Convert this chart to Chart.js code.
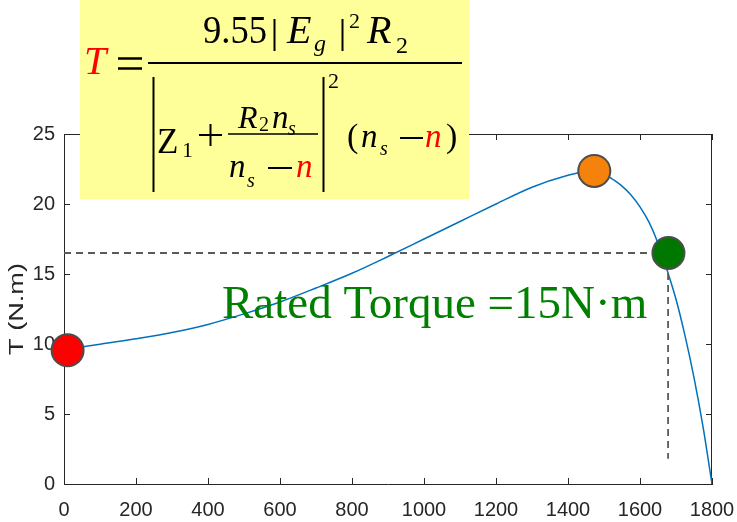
<!DOCTYPE html>
<html>
<head>
<meta charset="utf-8">
<title>Torque - speed</title>
<script src="https://cdn.jsdelivr.net/npm/chart.js@4.4.1/dist/chart.umd.min.js"></script>
<style>
  html, body { margin: 0; padding: 0; background: #fff; }
  #wrap { width: 737px; height: 522px; }
</style>
</head>
<body>
<div id="wrap"><canvas id="chartTorque" width="737" height="522"></canvas></div>
<script>
// curva par - velocidad del motor
var speed  = [0, 100, 200, 300, 400, 500, 600, 700, 800, 900, 1000, 1100, 1200, 1300, 1400, 1450, 1475, 1500, 1525, 1550, 1575, 1600, 1625, 1650, 1675, 1700, 1725, 1750, 1775, 1800];
var torque = [9.6, 9.98, 10.37, 10.82, 11.4, 12.15, 13.0, 14.0, 15.05, 16.25, 17.5, 18.75, 20.0, 21.2, 22.05, 22.32, 22.36, 22.15, 21.75, 21.28, 20.65, 19.8, 18.7, 17.2, 15.3, 13.2, 10.6, 7.6, 4.1, 0];

// puntos: arranque, par maximo, nominal
var markerSpeed  = [10, 1473, 1679];
var markerTorque = [9.55, 22.36, 16.5];
var markerColors = ['#ff0000', '#f5820a', '#007800'];

// lineas punteadas del par nominal
var ratedSpeed  = [0, 1678, 1678];
var ratedTorque = [16.5, 16.5, 1.8];

var xTicks = [0, 200, 400, 600, 800, 1000, 1200, 1400, 1600, 1800];
var yTicks = [0, 5, 10, 15, 20, 25];
var yTitle = 'T (N.m)';

var axisColor = '#262626';

function toPoints(xs, ys) {
    var pts = [];
    for (var i = 0; i < xs.length; i++) {
        pts.push({ x: xs[i], y: ys[i] });
    }
    return pts;
}

// caja completa con ticks hacia adentro (estilo matlab)
var boxTicks = {
    id: 'boxTicks',
    beforeDatasetsDraw: function (chart) {
        var ctx = chart.ctx;
        var a = chart.chartArea;
        var len = 6;
        ctx.save();
        ctx.strokeStyle = axisColor;
        ctx.lineWidth = 1;
        ctx.beginPath();
        ctx.moveTo(a.left, a.top + 0.5);
        ctx.lineTo(a.right, a.top + 0.5);
        ctx.moveTo(a.right - 0.5, a.top);
        ctx.lineTo(a.right - 0.5, a.bottom);
        chart.scales.x.ticks.forEach(function (t) {
            var px = Math.round(chart.scales.x.getPixelForValue(t.value)) + 0.5;
            ctx.moveTo(px, a.bottom);
            ctx.lineTo(px, a.bottom - len);
            ctx.moveTo(px, a.top);
            ctx.lineTo(px, a.top + len);
        });
        chart.scales.y.ticks.forEach(function (t) {
            var py = Math.round(chart.scales.y.getPixelForValue(t.value)) + 0.5;
            ctx.moveTo(a.left, py);
            ctx.lineTo(a.left + len, py);
            ctx.moveTo(a.right, py);
            ctx.lineTo(a.right - len, py);
        });
        ctx.stroke();

        // titulo del eje y, algo estirado a lo largo
        var mid = (a.top + a.bottom) / 2;
        ctx.font = '21px "Liberation Sans", Arial, sans-serif';
        ctx.fillStyle = axisColor;
        ctx.textAlign = 'center';
        ctx.textBaseline = 'alphabetic';
        var w = ctx.measureText(yTitle).width;
        ctx.translate(22.5, mid);
        ctx.rotate(-Math.PI / 2);
        ctx.scale(92 / w, 1);
        ctx.fillText(yTitle, 0, 0);
        ctx.restore();
    }
};

// texto "Rated Torque" y la formula del par sobre fondo amarillo
var overlay = {
    id: 'overlay',
    afterDraw: function (chart) {
        var ctx = chart.ctx;
        var serif = '"Liberation Serif", "Times New Roman", serif';

        function put(s, x, y, size, italic, color, maxW) {
            ctx.font = (italic ? 'italic ' : '') + size + 'px ' + serif;
            ctx.fillStyle = color || '#000';
            if (maxW) ctx.fillText(s, x, y, maxW);
            else ctx.fillText(s, x, y);
        }
        function line(x1, y1, x2, y2, w) {
            ctx.lineWidth = w;
            ctx.beginPath();
            ctx.moveTo(x1, y1);
            ctx.lineTo(x2, y2);
            ctx.stroke();
        }

        ctx.save();
        ctx.textAlign = 'left';
        ctx.textBaseline = 'alphabetic';

        put('Rated Torque =15N\u00b7m', 222, 318, 47, false, '#007f00', 426);

        ctx.fillStyle = '#ffff99';
        ctx.fillRect(80, 0, 389, 199);
        ctx.strokeStyle = '#000';

        // T =
        put('T', 84, 74, 40, true, '#ff0000');
        line(118, 58.5, 142, 58.5, 2.5);
        line(118, 68.5, 142, 68.5, 2.5);
        line(148, 63, 462, 63, 2);

        // numerador 9.55|Eg|^2 R2
        put('9.55', 203, 43, 40, false, '#000', 64);
        line(274.5, 19, 274.5, 51, 2);
        put('E', 287, 43, 40, true, '#000', 28);
        put('g', 314, 51, 24, true);
        line(342.5, 19, 342.5, 51, 2);
        put('2', 349, 28, 22, false);
        put('R', 367, 43, 40, true, '#000', 29);
        put('2', 396, 53, 24, false);

        // denominador |Z1 + R2 ns / (ns - n)|^2 (ns - n)
        line(153.5, 77, 153.5, 192, 2);
        line(323.5, 77, 323.5, 192, 2);
        put('Z', 157, 153, 35, false, '#000', 25);
        put('1', 182, 157, 22, false);
        line(199, 135, 222, 135, 2);
        line(210.5, 124, 210.5, 146, 2);

        put('R', 238, 128, 32, true);
        put('2', 259, 131, 20, false);
        put('n', 272, 128, 33, true);
        put('s', 288, 135, 20, true);
        line(228, 134, 318, 134, 1.5);
        put('n', 229, 177, 33, true);
        put('s', 247, 187, 20, true);
        line(268, 168, 292, 168, 2);
        put('n', 296, 177, 33, true, '#ff0000');

        put('2', 328, 88, 22, false);

        put('(', 347, 147, 34, false);
        put('n', 361, 147, 33, true);
        put('s', 380, 155, 20, true);
        line(400, 138, 423, 138, 2);
        put('n', 425, 147, 33, true, '#ff0000');
        put(')', 446, 147, 34, false);

        ctx.restore();
    }
};

Chart.defaults.font.family = '"Liberation Sans", Arial, sans-serif';
Chart.defaults.font.size = 20;

function plainLabel(value) {
    return String(value);
}

var chartTorque = new Chart(document.getElementById('chartTorque'), {
    type: 'scatter',
    data: {
        datasets: [{
            // marcadores (van primero para quedar arriba)
            data: toPoints(markerSpeed, markerTorque),
            showLine: false,
            pointRadius: 16,
            pointBackgroundColor: markerColors,
            pointBorderColor: '#4d4d4d',
            pointBorderWidth: 2,
            clip: false
        }, {
            data: toPoints(ratedSpeed, ratedTorque),
            showLine: true,
            borderColor: '#5a5a5a',
            borderWidth: 1.8,
            borderDash: [7, 5],
            pointRadius: 0,
            tension: 0
        }, {
            data: toPoints(speed, torque),
            showLine: true,
            borderColor: '#0072bd',
            borderWidth: 1.5,
            pointRadius: 0,
            cubicInterpolationMode: 'monotone'
        }]
    },
    options: {
        responsive: false,
        animation: false,
        events: [],
        layout: { padding: { top: 134, right: 25, left: 0, bottom: 0 } },
        plugins: {
            legend: { display: false },
            tooltip: { enabled: false }
        },
        scales: {
            x: {
                type: 'linear',
                min: 0,
                max: 1800,
                afterBuildTicks: function (scale) {
                    scale.ticks = xTicks.map(function (v) { return { value: v }; });
                },
                afterFit: function (scale) {
                    scale.height = 38;
                    scale.paddingLeft = 0;
                    scale.paddingRight = 0;
                },
                grid: { display: false, drawTicks: false },
                border: { display: true, color: axisColor, width: 1 },
                ticks: { color: axisColor, font: { size: 20 }, padding: 14, maxRotation: 0, callback: plainLabel }
            },
            y: {
                min: 0,
                max: 25,
                afterBuildTicks: function (scale) {
                    scale.ticks = yTicks.map(function (v) { return { value: v }; });
                },
                afterFit: function (scale) {
                    scale.width = 64;
                    scale.paddingTop = 0;
                    scale.paddingBottom = 0;
                },
                grid: { display: false, drawTicks: false },
                border: { display: true, color: axisColor, width: 1 },
                ticks: { color: axisColor, font: { size: 20 }, padding: 9, callback: plainLabel }
            }
        }
    },
    plugins: [boxTicks, overlay]
});
</script>
</body>
</html>
